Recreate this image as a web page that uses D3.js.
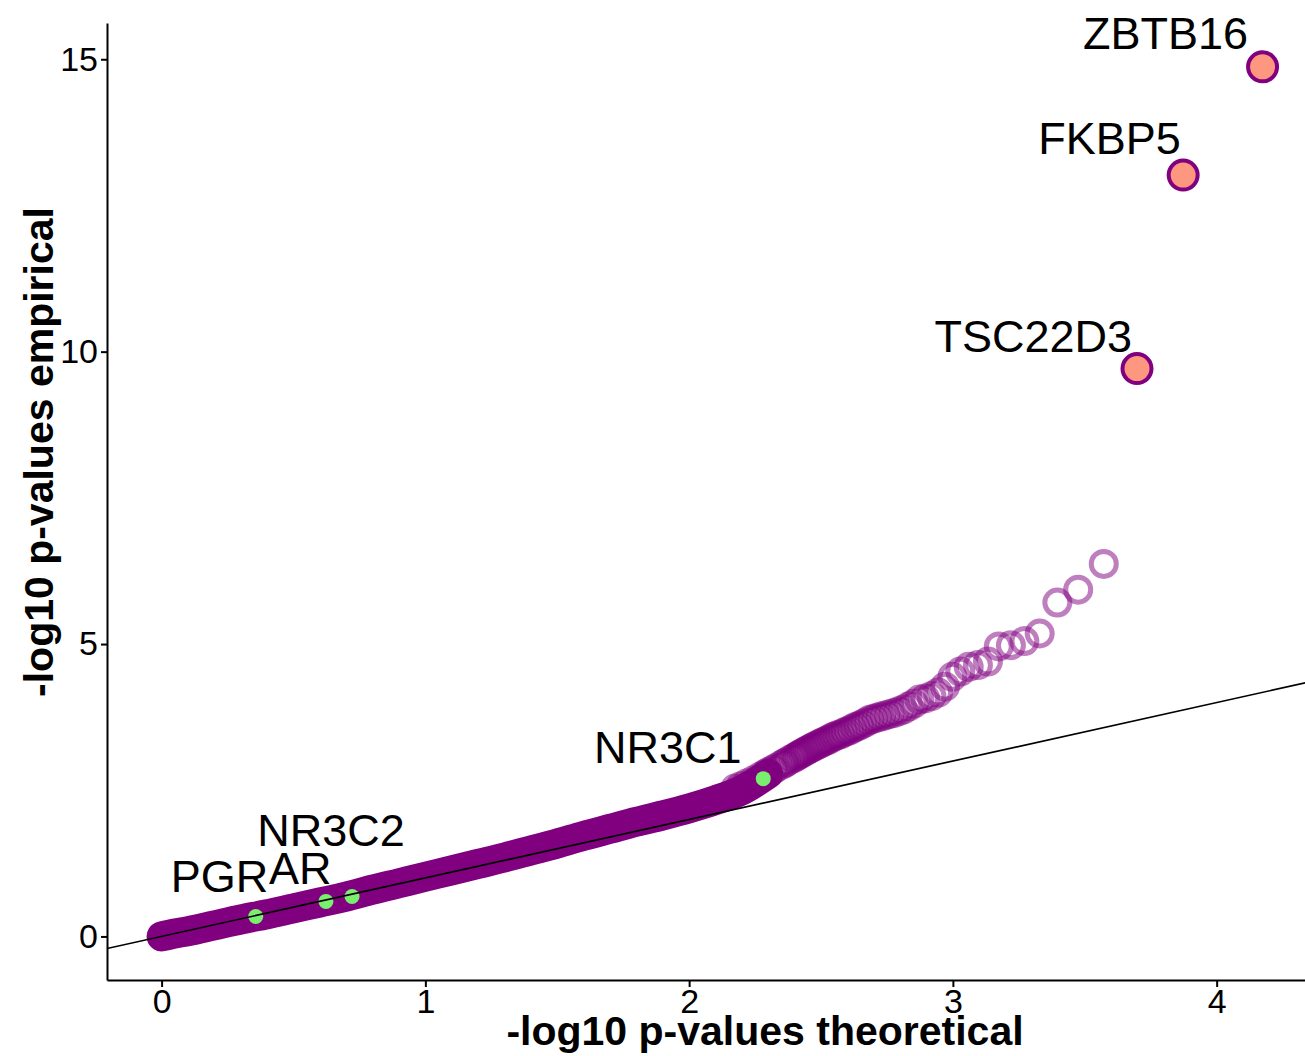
<!DOCTYPE html>
<html>
<head>
<meta charset="utf-8">
<script src="https://cdn.jsdelivr.net/npm/d3@7"></script>
<style>
body{margin:0;background:#fff}
svg{display:block}
text{font-family:"Liberation Sans",Arial,sans-serif}
</style>
</head>
<body>
<div id="plot"></div>
<script>
// dense part of the QQ curve (theoretical vs empirical -log10 p)
var bandX = [0, 0.05, 0.1, 0.2, 0.3, 0.4, 0.5, 0.6, 0.7, 0.8, 0.9, 1.0, 1.1, 1.2, 1.3, 1.4, 1.5, 1.6, 1.7, 1.8, 1.9, 2.0, 2.1, 2.2, 2.3];
var bandY = [0, 0.05, 0.09, 0.19, 0.29, 0.38, 0.48, 0.58, 0.68, 0.80, 0.91, 1.02, 1.13, 1.24, 1.35, 1.47, 1.59, 1.72, 1.84, 1.96, 2.07, 2.19, 2.33, 2.50, 2.78];

// upper tail, single points (highest first)
var tailX = [3.572, 3.475, 3.396, 3.329, 3.271, 3.220, 3.174, 3.133, 3.095, 3.060,
	3.028, 2.998, 2.970, 2.944, 2.919, 2.895, 2.873, 2.852, 2.832, 2.812,
	2.794, 2.776, 2.759, 2.743, 2.727, 2.712, 2.697, 2.683, 2.669, 2.655,
	2.643, 2.630, 2.618, 2.606, 2.594, 2.583, 2.572, 2.561, 2.551, 2.541,
	2.531, 2.521, 2.511, 2.502, 2.493, 2.484, 2.475, 2.466, 2.458, 2.450,
	2.442, 2.434, 2.426, 2.418, 2.411, 2.403, 2.396, 2.382, 2.368, 2.361,
	2.348, 2.329, 2.317, 2.299, 2.288, 2.271, 2.244, 2.220, 2.196, 2.174];
var tailY = [6.37, 5.93, 5.71, 5.18, 5.05, 4.98, 4.96, 4.70, 4.64, 4.61,
	4.53, 4.44, 4.27, 4.17, 4.11, 4.07, 4.05, 3.98, 3.93, 3.88,
	3.85, 3.82, 3.80, 3.78, 3.76, 3.74, 3.72, 3.70, 3.66, 3.63,
	3.60, 3.58, 3.55, 3.52, 3.50, 3.48, 3.45, 3.44, 3.42, 3.40,
	3.37, 3.35, 3.33, 3.31, 3.29, 3.27, 3.25, 3.23, 3.21, 3.19,
	3.17, 3.15, 3.13, 3.11, 3.09, 3.07, 3.05, 3.02, 2.98, 2.96,
	2.93, 2.88, 2.85, 2.81, 2.78, 2.74, 2.67, 2.62, 2.57, 2.53];

// top hits
var hitNames = ['ZBTB16', 'FKBP5', 'TSC22D3'];
var hitX = [4.174, 3.873, 3.698];
var hitY = [14.87, 13.02, 9.71];

// steroid receptors
var recNames = ['PGR', 'AR', 'NR3C2', 'NR3C1'];
var recX = [0.357, 0.623, 0.722, 2.281];
var recY = [0.342, 0.599, 0.684, 2.698];

var xTicks = [0, 1, 2, 3, 4];
var yTicks = [0, 5, 10, 15];

var W = 1305, H = 1056;
var svg = d3.select('#plot').append('svg').attr('width', W).attr('height', H);

var x = d3.scaleLinear().domain([-0.207, 4.388]).range([107, 1319]);
var y = d3.scaleLinear().domain([-0.745, 15.62]).range([980, 23]);

svg.append('clipPath').attr('id', 'panel')
	.append('rect').attr('x', 107).attr('y', 0).attr('width', W - 107).attr('height', 980);

var g = svg.append('g').attr('clip-path', 'url(#panel)');

var purple = '#800080';

// overplotted band (thousands of points, drawn as one thick stroke)
var band = bandX.map(function(d, i){ return [d, bandY[i]]; });
g.append('path')
	.datum(band)
	.attr('d', d3.line().x(function(d){ return x(d[0]); }).y(function(d){ return y(d[1]); }).curve(d3.curveMonotoneX))
	.attr('fill', 'none')
	.attr('stroke', purple)
	.attr('stroke-width', 30)
	.attr('stroke-linecap', 'round')
	.attr('stroke-linejoin', 'round');

// tail rings
g.selectAll('circle.tail')
	.data(tailX.map(function(d, i){ return [d, tailY[i]]; }))
	.enter().append('circle')
	.attr('class', 'tail')
	.attr('cx', function(d){ return x(d[0]); })
	.attr('cy', function(d){ return y(d[1]); })
	.attr('r', 12.5)
	.attr('fill', 'none')
	.attr('stroke', purple)
	.attr('stroke-width', 5)
	.attr('stroke-opacity', 0.5);

// receptor points
g.selectAll('circle.rec')
	.data(recX.map(function(d, i){ return [d, recY[i]]; }))
	.enter().append('circle')
	.attr('class', 'rec')
	.attr('cx', function(d){ return x(d[0]); })
	.attr('cy', function(d){ return y(d[1]); })
	.attr('r', 7.5)
	.attr('fill', '#7aee6e');

// y = x reference line
g.append('line')
	.attr('x1', x(-0.207)).attr('y1', y(-0.207))
	.attr('x2', x(4.388)).attr('y2', y(4.388))
	.attr('stroke', '#000')
	.attr('stroke-width', 1.7);

// top hits
g.selectAll('circle.hit')
	.data(hitX.map(function(d, i){ return [d, hitY[i]]; }))
	.enter().append('circle')
	.attr('class', 'hit')
	.attr('cx', function(d){ return x(d[0]); })
	.attr('cy', function(d){ return y(d[1]); })
	.attr('r', 14.5)
	.attr('fill', '#fd977f')
	.attr('stroke', purple)
	.attr('stroke-width', 4);

// labels, offsets in px from the point to the end of the text (repel-like placement)
var labelOffset = {
	ZBTB16: [-14.4, -17.4], FKBP5: [-2.3, -20.7], TSC22D3: [-5, -16.6],
	NR3C1: [-21.6, -15.6], NR3C2: [52.7, -50], PGR: [12.5, -24.3], AR: [5.7, -17.7]
};
var labels = hitNames.map(function(n, i){ return [n, hitX[i], hitY[i]]; })
	.concat(recNames.map(function(n, i){ return [n, recX[i], recY[i]]; }));
svg.selectAll('text.lab')
	.data(labels)
	.enter().append('text')
	.attr('class', 'lab')
	.attr('x', function(d){ return x(d[1]) + labelOffset[d[0]][0]; })
	.attr('y', function(d){ return y(d[2]) + labelOffset[d[0]][1]; })
	.attr('text-anchor', 'end')
	.attr('font-size', 45)
	.attr('fill', '#000')
	.text(function(d){ return d[0]; });

// axes
var xAxis = svg.append('g').attr('transform', 'translate(0,980)')
	.call(d3.axisBottom(x).tickValues(xTicks).tickFormat(d3.format('d')).tickSizeInner(7).tickSizeOuter(0).tickPadding(2));
var yAxis = svg.append('g').attr('transform', 'translate(107,0)')
	.call(d3.axisLeft(y).tickValues(yTicks).tickFormat(d3.format('d')).tickSizeInner(6).tickSizeOuter(0).tickPadding(3));

[xAxis, yAxis].forEach(function(a){
	a.select('.domain').attr('stroke', '#000').attr('stroke-width', 2);
	a.selectAll('.tick line').attr('stroke', '#000').attr('stroke-width', 2);
	a.selectAll('.tick text').attr('fill', '#000').attr('font-size', 34)
		.attr('font-family', '"Liberation Sans",Arial,sans-serif');
});

// titles
svg.append('text')
	.attr('x', 765).attr('y', 1045)
	.attr('text-anchor', 'middle')
	.attr('font-size', 41).attr('font-weight', 'bold')
	.text('-log10 p-values theoretical');

svg.append('text')
	.attr('transform', 'translate(53,452) rotate(-90)')
	.attr('text-anchor', 'middle')
	.attr('font-size', 41).attr('font-weight', 'bold')
	.text('-log10 p-values empirical');
</script>
</body>
</html>
